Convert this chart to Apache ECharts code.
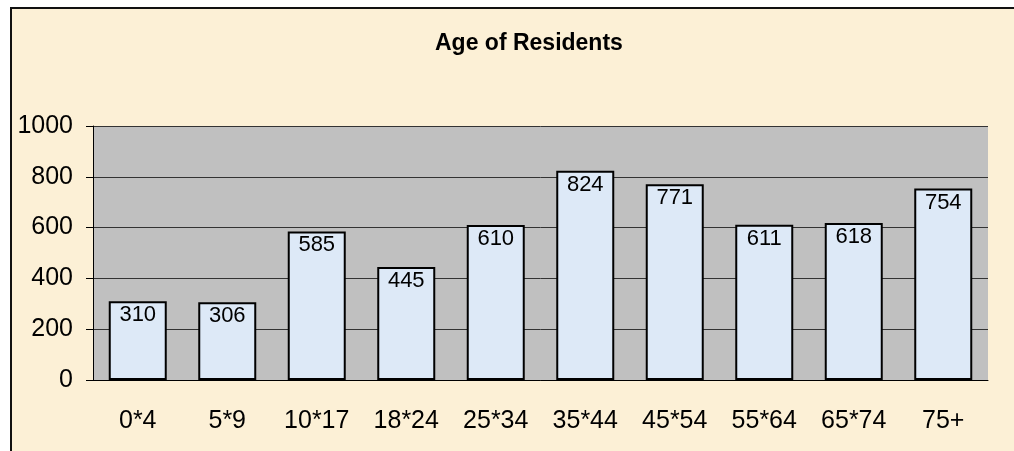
<!DOCTYPE html>
<html>
<head>
<meta charset="utf-8">
<title>Age of Residents</title>
<script src="https://cdn.jsdelivr.net/npm/echarts@6/dist/echarts.min.js"></script>
<style>
  html, body { margin: 0; padding: 0; background: #fff; }
  #chart { width: 1014px; height: 451px; }
</style>
</head>
<body>
<div id="chart"></div>
<script>
// data
var ageGroups = ['0*4', '5*9', '10*17', '18*24', '25*34', '35*44', '45*54', '55*64', '65*74', '75+'];
var residents = [310, 306, 585, 445, 610, 824, 771, 611, 618, 754];
var yTicks = [0, 200, 400, 600, 800, 1000];

var font = "'Liberation Sans', Arial, sans-serif";
var chart = echarts.init(document.getElementById('chart'));

var option = {
  backgroundColor: '#ffffff',
  animation: false,
  graphic: [{
    // parchment chart area with its black frame
    type: 'rect',
    z: -10,
    silent: true,
    shape: { x: 11, y: 8, width: 1020, height: 460 },
    style: { fill: '#fcf0d6', stroke: '#111', lineWidth: 2 }
  }],
  title: {
    text: 'Age of Residents',
    left: 430,
    top: 27,
    textStyle: { fontFamily: font, fontSize: 23, fontWeight: 'bold', color: '#000' }
  },
  grid: {
    left: 93,
    right: 26,
    top: 126,
    bottom: 71,
    show: true,
    backgroundColor: '#c0c0c0',
    borderWidth: 0
  },
  xAxis: {
    type: 'category',
    data: ageGroups,
    boundaryGap: true,
    axisLine: { lineStyle: { color: '#000', width: 1 } },
    axisTick: { length: 9, lineStyle: { color: '#000' } },
    axisLabel: { fontFamily: font, fontSize: 25, color: '#000', margin: 29 }
  },
  yAxis: {
    type: 'value',
    min: yTicks[0],
    max: yTicks[yTicks.length - 1],
    interval: yTicks[1] - yTicks[0],
    axisLine: { show: true, lineStyle: { color: '#000', width: 1 } },
    axisTick: { show: true, length: 7, lineStyle: { color: '#000' } },
    axisLabel: {
      fontFamily: font, fontSize: 25, color: '#000', margin: 20,
      formatter: function (v) { return String(v); }
    },
    splitLine: { lineStyle: { color: '#333', width: 1 } }
  },
  series: [{
    type: 'bar',
    data: residents,
    barWidth: 58,
    itemStyle: { color: '#dde9f7', borderColor: '#000', borderWidth: 2 },
    label: {
      show: true,
      position: 'insideTop',
      distance: 3,
      fontFamily: font,
      fontSize: 22,
      color: '#000'
    }
  }]
};
chart.setOption(option);
</script>
</body>
</html>
